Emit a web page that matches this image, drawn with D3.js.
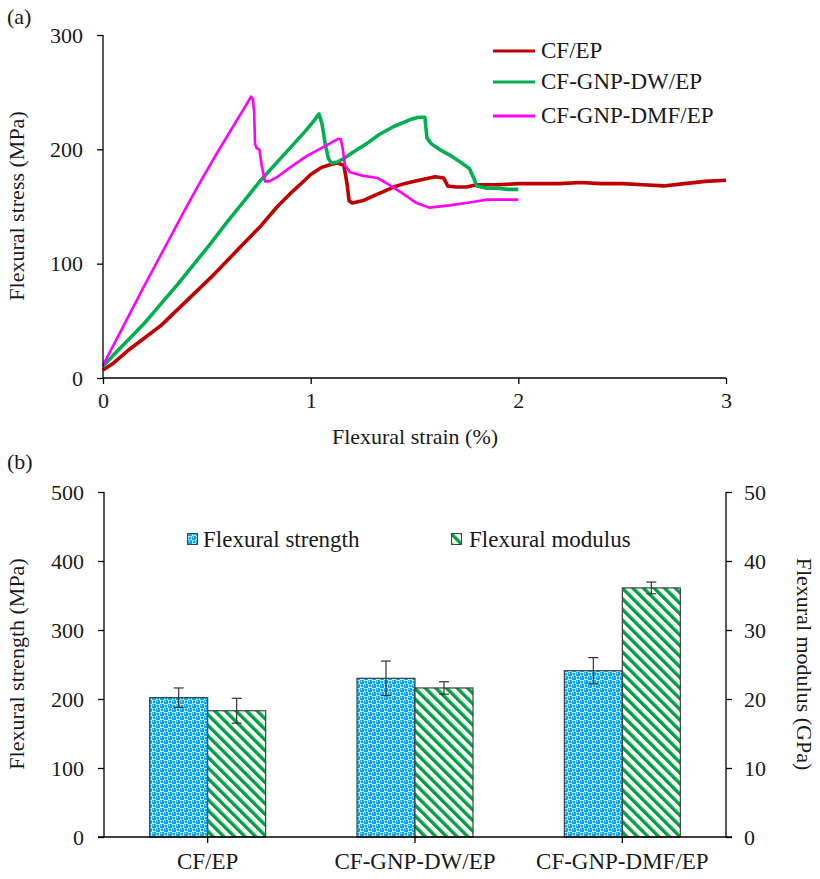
<!DOCTYPE html>
<html><head><meta charset="utf-8">
<script src="https://cdn.jsdelivr.net/npm/d3@7"></script>
<style>
html,body{margin:0;padding:0;background:#fff;}
text{font-family:"Liberation Serif","Times New Roman",serif;fill:#1a1a1a;}
</style></head>
<body>
<svg id="c" width="820" height="879"></svg>
<script>
// ---------- DATA (a): stress-strain curves ----------
const seriesNames = ["CF/EP", "CF-GNP-DW/EP", "CF-GNP-DMF/EP"];
const seriesColors = ["#C00000", "#00B050", "#FF00FF"];
const cfEP = [[0,7],[0.05,13],[0.12,24],[0.2,35],[0.28,46],[0.36,60],[0.44,74],[0.52,88],[0.6,103],[0.68,118],[0.76,133],[0.84,150],[0.9,161],[0.96,171],[1.0,178],[1.05,184],[1.1,187],[1.13,188],[1.16,186],[1.175,170],[1.185,155],[1.2,153],[1.25,155],[1.3,159],[1.35,163],[1.4,167],[1.45,170],[1.5,172],[1.55,174],[1.6,176],[1.64,175],[1.66,168],[1.7,167],[1.75,167],[1.8,169],[1.9,169],[2.0,170],[2.1,170],[2.2,170],[2.3,171],[2.4,170],[2.5,170],[2.6,169],[2.7,168],[2.8,170],[2.9,172],[3.0,173]];
const cfGnpDW = [[0,10],[0.05,20],[0.12,33],[0.2,48],[0.28,65],[0.36,82],[0.44,100],[0.52,118],[0.6,137],[0.68,155],[0.76,173],[0.84,189],[0.92,205],[0.98,217],[1.02,226],[1.04,231],[1.055,222],[1.07,205],[1.085,192],[1.1,188],[1.13,189],[1.16,192],[1.2,197],[1.27,205],[1.33,213],[1.4,220],[1.48,226],[1.52,228],[1.55,228],[1.56,210],[1.58,205],[1.62,200],[1.67,195],[1.72,189],[1.765,183],[1.785,175],[1.8,168],[1.85,166],[1.9,166],[1.95,165],[2.0,165]];
const cfGnpDMF = [[0,11],[0.1,46],[0.2,81],[0.3,115],[0.4,149],[0.47,172],[0.55,197],[0.62,218],[0.68,236],[0.713,246],[0.722,244],[0.728,232],[0.732,205],[0.74,201],[0.753,200],[0.765,185],[0.78,172],[0.8,172],[0.84,176],[0.9,184],[0.98,194],[1.06,202],[1.13,209],[1.145,209],[1.155,200],[1.165,186],[1.19,180],[1.25,177],[1.32,175],[1.36,171],[1.43,163],[1.51,153],[1.57,149],[1.67,151],[1.78,154],[1.85,156],[2.0,156]];
const strainTicks = [0, 1, 2, 3];
const stressTicks = [0, 100, 200, 300];

// ---------- DATA (b): bars ----------
const categories = ["CF/EP", "CF-GNP-DW/EP", "CF-GNP-DMF/EP"];
const strength = [202, 230, 241];          // MPa
const strengthErr = [14, 25, 19];
const modulus = [18.3, 21.6, 36.1];        // GPa
const modulusErr = [1.8, 0.9, 0.85];
const strengthTicks = [0, 100, 200, 300, 400, 500];
const modulusTicks = [0, 10, 20, 30, 40, 50];

const svg = d3.select("#c");
svg.append("rect").attr("width",820).attr("height",879).attr("fill","#fff");
const axisColor = "#000";
const FS = 22;

// ---------- Chart (a) ----------
const xA = d3.scaleLinear().domain([0,3]).range([103,726]);
const yA = d3.scaleLinear().domain([0,300]).range([378,35]);
const gA = svg.append("g");

const line = d3.line().x(d=>xA(d[0])).y(d=>yA(d[1]));
const curves = [cfEP, cfGnpDW, cfGnpDMF];
const widths = [3.6, 3.6, 2.6];
curves.forEach((c,i)=>{
  gA.append("path").datum(c).attr("d",line).attr("fill","none")
    .attr("stroke",seriesColors[i]).attr("stroke-width",widths[i]).attr("stroke-linejoin","round");
});

const axA_y = gA.append("g").attr("transform","translate(103,0)")
  .call(d3.axisLeft(yA).tickValues(stressTicks).tickSize(6).tickPadding(14).tickFormat(d3.format("d")));
const axA_x = gA.append("g").attr("transform","translate(0,378)")
  .call(d3.axisBottom(xA).tickValues(strainTicks).tickSize(6).tickPadding(8).tickFormat(d3.format("d")));
[axA_y, axA_x].forEach(a=>{
  a.select(".domain").attr("stroke",axisColor).attr("stroke-width",1.3);
  a.selectAll(".tick line").attr("stroke",axisColor).attr("stroke-width",1.3);
  a.selectAll("text").attr("font-size",FS).attr("font-family","Liberation Serif").attr("fill","#1a1a1a");
});
axA_y.select(".domain").attr("d","M0,378V35");
axA_x.select(".domain").attr("d","M103,0H726");

gA.append("text").attr("transform","translate(24,206) rotate(-90)").attr("text-anchor","middle")
  .attr("font-size",FS).text("Flexural stress (MPa)");
gA.append("text").attr("x",415).attr("y",444).attr("text-anchor","middle")
  .attr("font-size",FS).text("Flexural strain (%)");
svg.append("text").attr("x",7).attr("y",24).attr("font-size",FS).text("(a)");

// legend (a)
const legA = gA.append("g");
const legY = [51, 82, 116];
seriesNames.forEach((n,i)=>{
  legA.append("line").attr("x1",493).attr("x2",535).attr("y1",legY[i]).attr("y2",legY[i])
    .attr("stroke",seriesColors[i]).attr("stroke-width",3.2);
  legA.append("text").attr("x",541).attr("y",legY[i]+7).attr("font-size",23).text(n);
});

// ---------- Chart (b) ----------
const defs = svg.append("defs");
// blue "sphere" pattern
const pb = defs.append("pattern").attr("id","pBlue").attr("patternUnits","userSpaceOnUse")
  .attr("width",8).attr("height",8);
pb.append("rect").attr("width",8).attr("height",8).attr("fill","#ffffff");
[[2,2],[6,6]].forEach(p=>{
  pb.append("circle").attr("cx",p[0]).attr("cy",p[1]).attr("r",2.4).attr("fill","#00A6F0");
  pb.append("circle").attr("cx",p[0]-0.7).attr("cy",p[1]-0.7).attr("r",0.7).attr("fill","#d6f1ff");
});
[[6,2],[2,6]].forEach(p=>{
  pb.append("rect").attr("x",p[0]-1.3).attr("y",p[1]-1.3).attr("width",2.6).attr("height",2.6).attr("fill","#00A6F0");
});
// green diagonal stripes
const pg = defs.append("pattern").attr("id","pGreen").attr("patternUnits","userSpaceOnUse")
  .attr("width",7.5).attr("height",7.5).attr("patternTransform","rotate(-45)");
pg.append("rect").attr("width",7.5).attr("height",7.5).attr("fill","#fff");
pg.append("rect").attr("width",3.4).attr("height",7.5).attr("fill","#00A040");

const xB = d3.scaleBand().domain(categories).range([104,726]);
const yB = d3.scaleLinear().domain([0,500]).range([837,492]);
const yB2 = d3.scaleLinear().domain([0,50]).range([837,492]);
const gB = svg.append("g");
const bw = 58;

categories.forEach((c,i)=>{
  const cx = xB(c) + xB.bandwidth()/2;
  gB.append("rect").attr("x",cx-bw).attr("y",yB(strength[i])).attr("width",bw)
    .attr("height",yB(0)-yB(strength[i])).attr("fill","url(#pBlue)").attr("stroke","#404040").attr("stroke-width",1.2);
  gB.append("rect").attr("x",cx).attr("y",yB2(modulus[i])).attr("width",bw)
    .attr("height",yB2(0)-yB2(modulus[i])).attr("fill","url(#pGreen)").attr("stroke","#404040").attr("stroke-width",1.2);
  const eb = (x, y0, y1) => {
    gB.append("line").attr("x1",x).attr("x2",x).attr("y1",y0).attr("y2",y1).attr("stroke","#333").attr("stroke-width",1.2);
    [y0,y1].forEach(y=>gB.append("line").attr("x1",x-5).attr("x2",x+5).attr("y1",y).attr("y2",y).attr("stroke","#333").attr("stroke-width",1.2));
  };
  eb(cx-bw/2, yB(strength[i]+strengthErr[i]), yB(strength[i]-strengthErr[i]));
  eb(cx+bw/2, yB2(modulus[i]+modulusErr[i]), yB2(modulus[i]-modulusErr[i]));
});

const axB_l = gB.append("g").attr("transform","translate(104,0)")
  .call(d3.axisLeft(yB).tickValues(strengthTicks).tickSize(6).tickPadding(14));
const axB_r = gB.append("g").attr("transform","translate(726,0)")
  .call(d3.axisRight(yB2).tickValues(modulusTicks).tickSize(6).tickPadding(12));
const axB_x = gB.append("g").attr("transform","translate(0,837)")
  .call(d3.axisBottom(xB).tickSize(6).tickPadding(10));
[axB_l, axB_r, axB_x].forEach(a=>{
  a.select(".domain").attr("stroke",axisColor).attr("stroke-width",1.3);
  a.selectAll(".tick line").attr("stroke",axisColor).attr("stroke-width",1.3);
  a.selectAll("text").attr("font-size",FS).attr("font-family","Liberation Serif").attr("fill","#1a1a1a");
});
axB_l.select(".domain").attr("d","M0,837V492");
axB_r.select(".domain").attr("d","M0,837V492");
axB_x.select(".domain").attr("d","M98,0H732");
axB_x.selectAll("text").attr("font-size",23);

gB.append("text").attr("transform","translate(24,664) rotate(-90)").attr("text-anchor","middle")
  .attr("font-size",FS).text("Flexural strength (MPa)");
gB.append("text").attr("transform","translate(797,664) rotate(90)").attr("text-anchor","middle")
  .attr("font-size",FS).text("Flexural modulus (GPa)");
svg.append("text").attr("x",7).attr("y",469).attr("font-size",FS).text("(b)");

// legend (b)
const legB = gB.append("g");
legB.append("rect").attr("x",187.5).attr("y",533.5).attr("width",10).attr("height",11)
  .attr("fill","url(#pBlue)").attr("stroke","#404040");
legB.append("text").attr("x",203).attr("y",547).attr("font-size",23).text("Flexural strength");
legB.append("rect").attr("x",451.5).attr("y",533.5).attr("width",10).attr("height",11)
  .attr("fill","url(#pGreen)").attr("stroke","#404040");
legB.append("text").attr("x",469).attr("y",547).attr("font-size",23).text("Flexural modulus");
</script>
</body></html>
